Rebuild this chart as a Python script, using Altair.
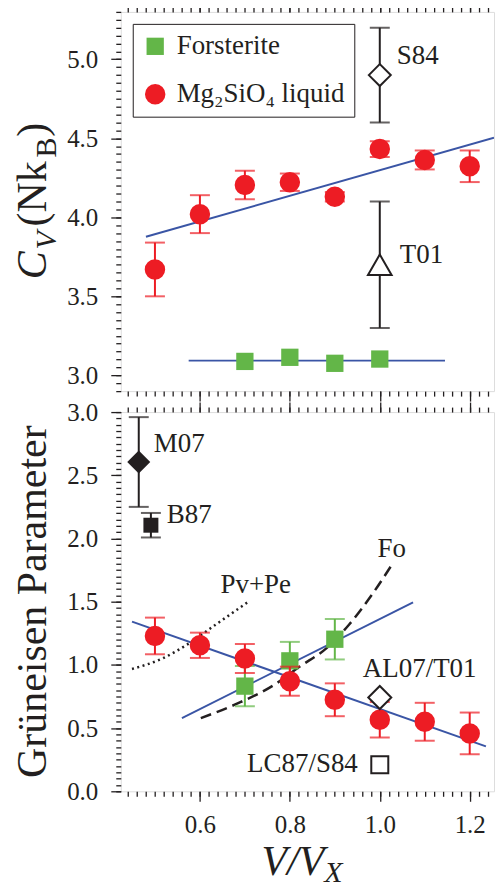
import altair as alt
import pandas as pd

SERIF = "Liberation Serif"
INK = "#231f20"
RED = "#ed1c24"
GREEN = "#63b648"
BLUE = "#3a55a5"

# ---------------- data ----------------
series_names = ["Forsterite", "Mg\u2082SiO\u2084 liquid"]

v_liq = [0.5, 0.6, 0.7, 0.8, 0.9, 1.0, 1.1, 1.2]
cv_liq = [3.67, 4.02, 4.205, 4.222, 4.13, 4.432, 4.363, 4.323]
cv_liq_err = [0.17, 0.12, 0.09, 0.055, 0.03, 0.05, 0.06, 0.10]

v_fo = [0.7, 0.8, 0.9, 1.0]
cv_fo = [3.088, 3.114, 3.076, 3.103]

cv_liq_fit_v = [0.48, 1.254]
cv_liq_fit = [3.877, 4.504]
cv_fo_fit_v = [0.575, 1.145]
cv_fo_fit = [3.093, 3.093]

cv_ref_names = ["S84", "T01"]
cv_ref_v = [1.0, 1.0]
cv_ref = [4.9, 3.7]
cv_ref_err = [0.3, 0.4]

g_liq = [1.229, 1.155, 1.05, 0.871, 0.724, 0.566, 0.55, 0.458]
g_liq_err = [0.145, 0.10, 0.115, 0.115, 0.13, 0.14, 0.15, 0.165]

v_fo_g = [0.7, 0.8, 0.9]
g_fo = [0.832, 1.032, 1.203]
g_fo_err = [0.16, 0.15, 0.16]

g_liq_fit_v = [0.449, 1.236]
g_liq_fit = [1.342, 0.355]
g_fo_fit_v = [0.560, 1.074]
g_fo_fit = [0.579, 1.495]

fo_curve_v = [0.602, 0.685, 0.765, 0.822, 0.881, 0.931, 0.982, 1.024]
fo_curve_g = [0.579, 0.697, 0.842, 0.987, 1.131, 1.316, 1.553, 1.776]
pvpe_curve_v = [0.449, 0.518, 0.576, 0.634, 0.71]
pvpe_curve_g = [0.968, 1.053, 1.171, 1.316, 1.505]

g_ref_names = ["M07", "B87", "AL07/T01", "LC87/S84"]
g_ref_v = [0.464, 0.491, 1.0, 1.0]
g_ref = [2.605, 2.105, 0.742, 0.21]
g_ref_err = [0.355, 0.097, 0.0, 0.0]

x_major = [0.6, 0.8, 1.0, 1.2]
x_minor = [round(0.44 + 0.02 * i, 2) for i in range(41)]
cv_major = [3.0, 3.5, 4.0, 4.5, 5.0]
cv_minor = [round(2.9 + 0.05 * i, 2) for i in range(49)]
g_major = [0.0, 0.5, 1.0, 1.5, 2.0, 2.5, 3.0]
g_minor = [round(0.05 * i, 2) for i in range(61)]

X_DOMAIN = [0.424, 1.254]
CV_DOMAIN = [2.9, 5.3]
G_DOMAIN = [0.0, 3.0]

W, H = 374, 380

# ---------------- tables ----------------
def err_df(xs, ys, es):
    return pd.DataFrame({"x": xs, "y": ys, "lo": [y - e for y, e in zip(ys, es)],
                         "hi": [y + e for y, e in zip(ys, es)]})

cv_liq_df = err_df(v_liq, cv_liq, cv_liq_err)
cv_pts = pd.DataFrame({
    "x": v_fo + v_liq,
    "y": cv_fo + cv_liq,
    "series": [series_names[0]] * len(v_fo) + [series_names[1]] * len(v_liq),
})
cv_fit_df = pd.DataFrame({
    "x": cv_liq_fit_v + cv_fo_fit_v,
    "y": cv_liq_fit + cv_fo_fit,
    "grp": ["liq", "liq", "fo", "fo"],
})
cv_ref_df = pd.DataFrame({"name": cv_ref_names, "x": cv_ref_v, "y": cv_ref,
                          "lo": [y - e for y, e in zip(cv_ref, cv_ref_err)],
                          "hi": [y + e for y, e in zip(cv_ref, cv_ref_err)]})

g_liq_df = err_df(v_liq, g_liq, g_liq_err)
g_fo_df = err_df(v_fo_g, g_fo, g_fo_err)
g_fit_df = pd.DataFrame({
    "x": g_liq_fit_v + g_fo_fit_v,
    "y": g_liq_fit + g_fo_fit,
    "grp": ["liq", "liq", "fo", "fo"],
})
fo_curve_df = pd.DataFrame({"x": fo_curve_v, "y": fo_curve_g})
pvpe_df = pd.DataFrame({"x": pvpe_curve_v, "y": pvpe_curve_g})
g_ref_df = pd.DataFrame({"name": g_ref_names, "x": g_ref_v, "y": g_ref,
                         "lo": [y - e for y, e in zip(g_ref, g_ref_err)],
                         "hi": [y + e for y, e in zip(g_ref, g_ref_err)]})

# ---------------- axes ----------------
def make_axis(orient, values, size, labels):
    kw = dict(orient=orient, values=values, title=None, domain=False, grid=False,
              tickSize=size, tickColor=INK, tickWidth=1.3, labels=labels)
    if labels:
        kw.update(format=".1f", labelFont=SERIF, labelFontSize=25, labelColor=INK,
                  labelPadding=13 if orient in ("left", "right") else 11,
                  labelFlush=False, labelOverlap=False)
    return alt.Axis(**kw)


def X(axis=None):
    return alt.X("x:Q", scale=alt.Scale(domain=X_DOMAIN, nice=False, zero=False), axis=axis)


def Y(domain, field="y", axis=None):
    return alt.Y(f"{field}:Q", scale=alt.Scale(domain=domain, nice=False, zero=False), axis=axis)


def Y2(field):
    return alt.Y2(f"{field}:Q")


def axis_layers(df, domain, y_major, y_minor, x_labels):
    """Invisible carriers for the frame ticks: major / minor, bottom / top, left."""
    specs = [
        (make_axis("bottom", x_major, 10, x_labels), make_axis("left", y_major, 10, True)),
        (make_axis("bottom", x_minor, 5, False), make_axis("left", y_minor, 5, False)),
        (make_axis("top", x_major, 10, False), None),
        (make_axis("top", x_minor, 5, False), None),
    ]
    return [alt.Chart(df).mark_point(opacity=0).encode(x=X(xa), y=Y(domain, axis=ya))
            for xa, ya in specs]


def errbars(df, domain, color, cap=20):
    rule = alt.Chart(df).mark_rule(color=color, strokeWidth=2).encode(
        x=X(), y=Y(domain, "lo"), y2=Y2("hi"))
    lo = alt.Chart(df).mark_tick(color=color, orient="horizontal", size=cap, thickness=2).encode(
        x=X(), y=Y(domain, "lo"))
    hi = alt.Chart(df).mark_tick(color=color, orient="horizontal", size=cap, thickness=2).encode(
        x=X(), y=Y(domain, "hi"))
    return [rule, lo, hi]


def free_text(txt, x, y, size, italic=False, angle=0, align="left"):
    return alt.Chart(alt.Data(values=[{}])).mark_text(
        text=txt, font=SERIF, fontSize=size, fontStyle="italic" if italic else "normal",
        angle=angle, align=align, baseline="alphabetic", color=INK).encode(
        x=alt.value(x), y=alt.value(y))


def ref_label(df, name, domain, dx, dy, align="left"):
    return alt.Chart(df).transform_filter(alt.datum.name == name).mark_text(
        font=SERIF, fontSize=27, color=INK, align=align, baseline="middle", dx=dx, dy=dy).encode(
        x=X(), y=Y(domain), text="name:N")


# ---------------- top panel: C_V ----------------
cv_fit_lines = alt.Chart(cv_fit_df).mark_line(color=BLUE, strokeWidth=2, clip=True).encode(
    x=X(), y=Y(CV_DOMAIN), detail="grp:N")

legend = alt.Legend(title=None, orient="none", legendX=12, legendY=12, padding=9,
                    strokeColor=INK, fillColor="white", labelFont=SERIF, labelFontSize=27,
                    labelColor=INK, labelLimit=400, symbolSize=420, rowPadding=20, labelOffset=8,
                    symbolStrokeWidth=0, symbolOpacity=1)

cv_points = alt.Chart(cv_pts).mark_point(filled=True, opacity=1).encode(
    x=X(), y=Y(CV_DOMAIN),
    color=alt.Color("series:N", scale=alt.Scale(domain=series_names, range=[GREEN, RED]), legend=legend),
    shape=alt.Shape("series:N", scale=alt.Scale(domain=series_names, range=["square", "circle"]), legend=legend),
    size=alt.Size("series:N", scale=alt.Scale(domain=series_names, range=[300, 420]), legend=None),
)

s84 = alt.Chart(cv_ref_df).transform_filter(alt.datum.name == "S84").mark_point(
    shape="diamond", filled=True, fill="white", stroke=INK, strokeWidth=2, size=484, opacity=1).encode(
    x=X(), y=Y(CV_DOMAIN))
t01 = alt.Chart(cv_ref_df).transform_filter(alt.datum.name == "T01").mark_point(
    shape="triangle-up", filled=True, fill="white", stroke=INK, strokeWidth=2, size=560, opacity=1).encode(
    x=X(), y=Y(CV_DOMAIN))

top = alt.layer(
    *axis_layers(cv_pts, CV_DOMAIN, cv_major, cv_minor, False),
    cv_fit_lines,
    *errbars(cv_liq_df, CV_DOMAIN, RED),
    cv_points,
    *errbars(cv_ref_df, CV_DOMAIN, INK), s84, t01,
    ref_label(cv_ref_df, "S84", CV_DOMAIN, 17, -19),
    ref_label(cv_ref_df, "T01", CV_DOMAIN, 20, -10),
    free_text("C", -75, 268, 42, italic=True, angle=270),
    free_text("V", -65, 238, 30, italic=True, angle=270),
    free_text("(Nk", -75, 215, 42, angle=270),
    free_text("B", -65, 146, 30, angle=270),
    free_text(")", -75, 125, 42, angle=270),
).resolve_axis(x="independent", y="independent").properties(width=W, height=H)

# ---------------- bottom panel: Grüneisen ----------------
g_fit_lines = alt.Chart(g_fit_df).mark_line(color=BLUE, strokeWidth=2, clip=True).encode(
    x=X(), y=Y(G_DOMAIN), detail="grp:N")

fo_curve = alt.Chart(fo_curve_df).mark_line(color=INK, strokeWidth=2.5, strokeDash=[11, 6],
                                            interpolate="monotone").encode(x=X(), y=Y(G_DOMAIN))
pvpe_curve = alt.Chart(pvpe_df).mark_line(color=INK, strokeWidth=2.5, strokeDash=[2, 3.5],
                                          interpolate="monotone").encode(x=X(), y=Y(G_DOMAIN))

g_fo_pts = alt.Chart(g_fo_df).mark_point(shape="square", filled=True, color=GREEN, size=300, opacity=1).encode(
    x=X(), y=Y(G_DOMAIN))
g_liq_pts = alt.Chart(g_liq_df).mark_point(shape="circle", filled=True, color=RED, size=420, opacity=1).encode(
    x=X(), y=Y(G_DOMAIN))

g_ref_err_df = g_ref_df[g_ref_df["name"].isin(["M07", "B87"])]
m07 = alt.Chart(g_ref_df).transform_filter(alt.datum.name == "M07").mark_point(
    shape="diamond", filled=True, color=INK, size=530, opacity=1).encode(x=X(), y=Y(G_DOMAIN))
b87 = alt.Chart(g_ref_df).transform_filter(alt.datum.name == "B87").mark_point(
    shape="square", filled=True, color=INK, size=225, opacity=1).encode(x=X(), y=Y(G_DOMAIN))
al07 = alt.Chart(g_ref_df).transform_filter(alt.datum.name == "AL07/T01").mark_point(
    shape="diamond", filled=True, fill="white", stroke=INK, strokeWidth=2, size=530, opacity=1).encode(
    x=X(), y=Y(G_DOMAIN))
lc87 = alt.Chart(g_ref_df).transform_filter(alt.datum.name == "LC87/S84").mark_point(
    shape="square", filled=True, fill="white", stroke=INK, strokeWidth=2, size=290, opacity=1).encode(
    x=X(), y=Y(G_DOMAIN))

fo_label = alt.Chart(fo_curve_df.tail(1)).mark_text(
    text="Fo", font=SERIF, fontSize=27, color=INK, align="left", baseline="middle", dx=-13, dy=-18).encode(
    x=X(), y=Y(G_DOMAIN))
pvpe_label = alt.Chart(pvpe_df.tail(1)).mark_text(
    text="Pv+Pe", font=SERIF, fontSize=27, color=INK, align="left", baseline="middle", dx=-29, dy=-16).encode(
    x=X(), y=Y(G_DOMAIN))

bottom = alt.layer(
    *axis_layers(g_liq_df, G_DOMAIN, g_major, g_minor, True),
    g_fit_lines,
    fo_curve, pvpe_curve,
    *errbars(g_fo_df, G_DOMAIN, GREEN), g_fo_pts,
    *errbars(g_liq_df, G_DOMAIN, RED), g_liq_pts,
    *errbars(g_ref_err_df, G_DOMAIN, INK), m07, b87, al07, lc87,
    ref_label(g_ref_df, "M07", G_DOMAIN, 15, -18),
    ref_label(g_ref_df, "B87", G_DOMAIN, 16, -10),
    ref_label(g_ref_df, "AL07/T01", G_DOMAIN, -17, -29),
    ref_label(g_ref_df, "LC87/S84", G_DOMAIN, -22, -1, align="right"),
    fo_label, pvpe_label,
    free_text("Gr\u00fcneisen Parameter", -75, 190, 42, angle=270, align="center"),
    free_text("V/V", 141, 464, 42, italic=True),
    free_text("X", 204, 471, 30, italic=True),
).resolve_axis(x="independent", y="independent").properties(width=W, height=H)

chart = alt.vconcat(top, bottom, spacing=-4).properties(
    padding={"left": 3, "top": -9, "right": 0, "bottom": 0}
).configure_view(stroke=INK, strokeWidth=2).configure(background="white")

chart.save("out.html", embed_options={"renderer": "svg", "actions": False})
